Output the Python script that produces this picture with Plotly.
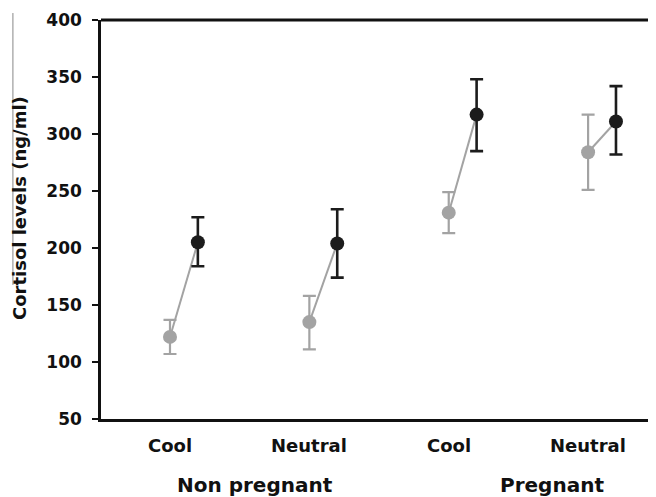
import plotly.graph_objects as go

categories = ["Cool", "Neutral", "Cool", "Neutral"]
groups = ["Non pregnant", "Pregnant"]
gray_mean = [122, 135, 231, 284]
gray_upper = [137, 158, 249, 317]
gray_lower = [107, 111, 213, 251]
black_mean = [205, 204, 317, 311]
black_upper = [227, 234, 348, 342]
black_lower = [184, 174, 285, 282]
y_ticks = [50, 100, 150, 200, 250, 300, 350, 400]
y_title = "Cortisol levels (ng/ml)"

OFF = 0.2
xg = list(range(len(categories)))
xb = [i + OFF for i in xg]
GRAY = "#a3a3a3"
BLACK = "#1c1c1c"
FONT = "DejaVu Sans"

fig = go.Figure()

# connecting lines
lx, ly = [], []
for i in range(len(categories)):
    lx += [xg[i], xb[i], None]
    ly += [gray_mean[i], black_mean[i], None]
fig.add_trace(go.Scatter(x=lx, y=ly, mode="lines",
                         line=dict(color=GRAY, width=2), hoverinfo="skip", showlegend=False))

fig.add_trace(go.Scatter(
    x=xg, y=gray_mean, mode="markers",
    marker=dict(color=GRAY, size=14),
    error_y=dict(type="data", symmetric=False,
                 array=[u - m for u, m in zip(gray_upper, gray_mean)],
                 arrayminus=[m - l for m, l in zip(gray_mean, gray_lower)],
                 color=GRAY, thickness=2.2, width=6.5),
    showlegend=False))

fig.add_trace(go.Scatter(
    x=xb, y=black_mean, mode="markers",
    marker=dict(color=BLACK, size=14),
    error_y=dict(type="data", symmetric=False,
                 array=[u - m for u, m in zip(black_upper, black_mean)],
                 arrayminus=[m - l for m, l in zip(black_mean, black_lower)],
                 color=BLACK, thickness=2.6, width=6.5),
    showlegend=False))

annotations = []
for i, c in enumerate(categories):
    annotations.append(dict(x=xg[i], y=-0.0, xref="x", yref="paper", yshift=-26,
                            text=c, showarrow=False, xanchor="center", yanchor="middle",
                            font=dict(family=FONT, size=18, color="#111", weight="bold")))
group_x = [0.61, 2.74]
for gx, g in zip(group_x, groups):
    annotations.append(dict(x=gx, y=0, xref="x", yref="paper", yshift=-66,
                            text=g, showarrow=False, xanchor="center", yanchor="middle",
                            font=dict(family=FONT, size=20, color="#111", weight="bold")))
annotations.append(dict(x=-0.146, y=0.529, xref="paper", yref="paper",
                        text=y_title, textangle=-90, showarrow=False,
                        xanchor="center", yanchor="middle",
                        font=dict(family=FONT, size=18, color="#111", weight="bold")))

# the page body has an 8px default margin; compensate so the plot lands where it should
fig.update_layout(
    width=648, height=489,
    margin=dict(l=93, r=1, t=12, b=78),
    paper_bgcolor="white", plot_bgcolor="white",
    annotations=annotations,
    shapes=[
        dict(type="line", xref="paper", yref="paper", x0=0, x1=1, y0=1, y1=1,
             line=dict(color="#111", width=3)),
        dict(type="line", xref="paper", yref="paper", x0=1, x1=1, y0=0, y1=1,
             line=dict(color="#999", width=1)),
        dict(type="line", xref="paper", yref="paper", x0=-0.159, x1=-0.159, y0=0.336, y1=1.0175,
             line=dict(color="#888", width=1)),
    ],
    xaxis=dict(range=[-0.495, 3.48], showgrid=False, zeroline=False,
               showticklabels=False, ticks="", showline=True, linecolor="#111", linewidth=2.5),
    yaxis=dict(range=[50, 400], tickvals=y_ticks, showgrid=False, zeroline=False,
               ticks="outside", ticklen=6, tickwidth=2, tickcolor="#111",
               ticklabelstandoff=7,
               showline=True, linecolor="#111", linewidth=2.5,
               tickfont=dict(family=FONT, size=17, color="#111", weight="bold")),
)

fig.write_html("out.html")
